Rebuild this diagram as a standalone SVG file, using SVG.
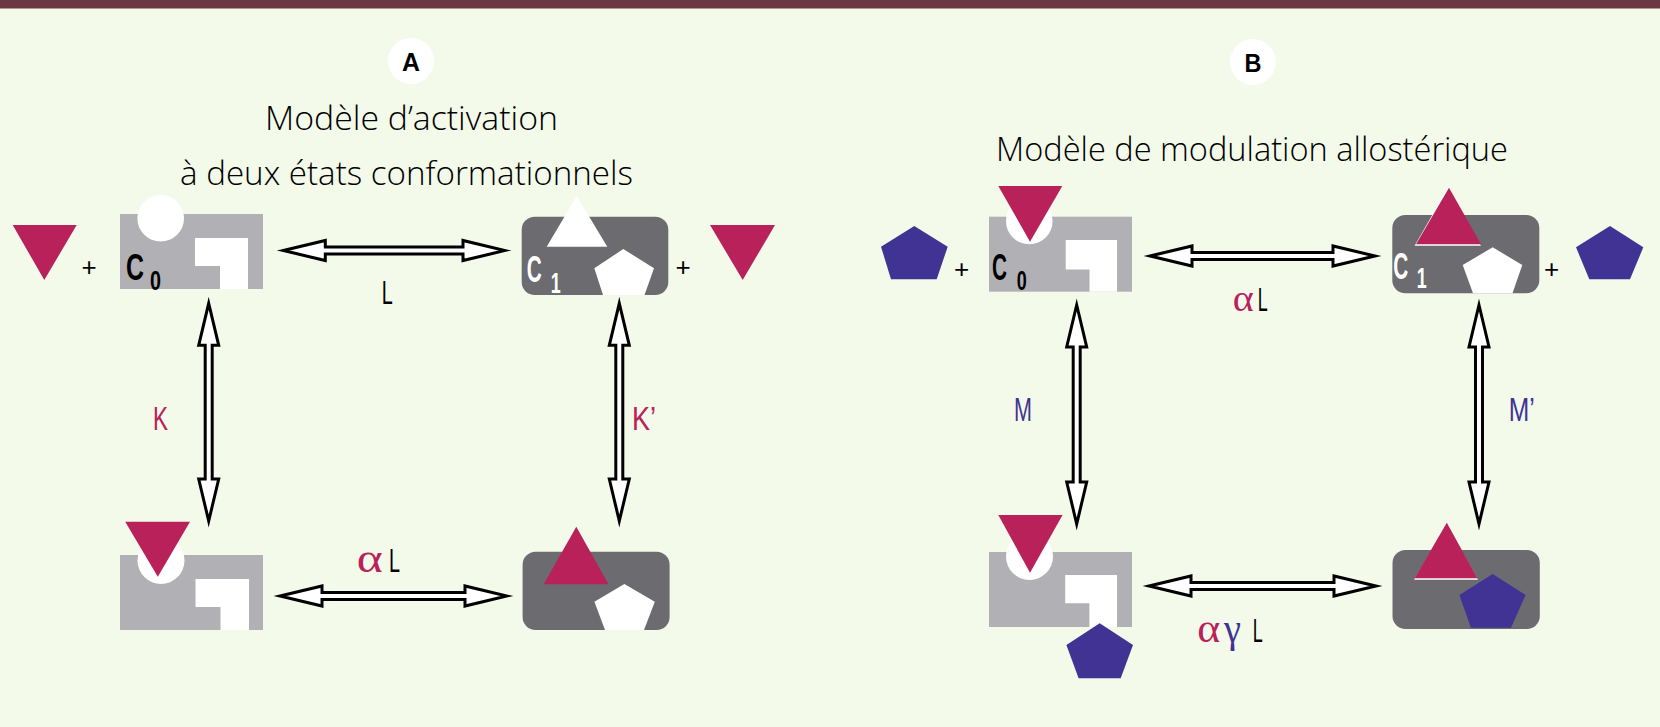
<svg xmlns="http://www.w3.org/2000/svg" width="1660" height="727" viewBox="0 0 1660 727">
<style>
.bg{fill:#f3faea}
.bar{fill:#6c3843}
.lg{fill:#b1b0b5}
.dg{fill:#6c6b70}
.wh{fill:#ffffff}
.mg{fill:#b8215a}
.nv{fill:#413394}
.arr{fill:#ffffff;stroke:#000000;stroke-width:3;stroke-linejoin:miter;stroke-miterlimit:10}
.t{font-family:"Liberation Sans",Arial,sans-serif;fill:#000000}
.ti{font-family:"Open Sans","Liberation Sans",Arial,sans-serif;font-weight:300;font-size:33px;fill:#000000}
.cb{font-family:"Liberation Sans",Arial,sans-serif;font-weight:bold;fill:#000000}
.cw{font-family:"Liberation Sans",Arial,sans-serif;font-weight:bold;fill:#ffffff}
.gr{font-family:"Liberation Serif","Times New Roman",serif}
.lab{font-size:33px}
.plus{font-family:"Liberation Sans",Arial,sans-serif;font-size:26px;fill:#000000}
</style>
<rect class="bg" x="0" y="0" width="1660" height="727"/>
<rect class="bar" x="0" y="0" width="1660" height="8.5"/>

<g id="titleA">
<circle class="wh" cx="411" cy="61" r="23"/>
<text class="cb" x="411" y="71" font-size="26" text-anchor="middle" textLength="18" lengthAdjust="spacingAndGlyphs">A</text>
<text class="ti" x="265" y="130" textLength="293" lengthAdjust="spacingAndGlyphs">Modèle d’activation</text>
<text class="ti" x="180" y="185" textLength="453" lengthAdjust="spacingAndGlyphs">à deux états conformationnels</text>
</g>
<g id="titleB">
<circle class="wh" cx="1253" cy="62" r="23"/>
<text class="cb" x="1253" y="72" font-size="26" text-anchor="middle" textLength="17" lengthAdjust="spacingAndGlyphs">B</text>
<text class="ti" x="996" y="161" textLength="512" lengthAdjust="spacingAndGlyphs">Modèle de modulation allostérique</text>
</g>

<g id="connectors">
<path class="arr" d="M283.3,250.5 L325.3,240.5 L325.3,247 L463,247 L463,240.5 L505,250.5 L463,260.5 L463,254 L325.3,254 L325.3,260.5 Z"/>
<path class="arr" d="M280,596 L322,586 L322,592.5 L465,592.5 L465,586 L507,596 L465,606 L465,599.5 L322,599.5 L322,606 Z"/>
<path class="arr" d="M208.7,303.3 L218.7,345.3 L212.2,345.3 L212.2,479 L218.7,479 L208.7,521 L198.7,479 L205.2,479 L205.2,345.3 L198.7,345.3 Z"/>
<path class="arr" d="M619.3,303.3 L629.3,345.3 L622.8,345.3 L622.8,479 L629.3,479 L619.3,521 L609.3,479 L615.8,479 L615.8,345.3 L609.3,345.3 Z"/>
<path class="arr" d="M1150,256 L1192,246 L1192,252.5 L1333,252.5 L1333,246 L1375,256 L1333,266 L1333,259.5 L1192,259.5 L1192,266 Z"/>
<path class="arr" d="M1149,586 L1191,576 L1191,582.5 L1334,582.5 L1334,576 L1376,586 L1334,596 L1334,589.5 L1191,589.5 L1191,596 Z"/>
<path class="arr" d="M1076.7,305 L1086.7,347 L1080.2,347 L1080.2,482 L1086.7,482 L1076.7,524 L1066.7,482 L1073.2,482 L1073.2,347 L1066.7,347 Z"/>
<path class="arr" d="M1479,305 L1489,347 L1482.5,347 L1482.5,482 L1489,482 L1479,524 L1469,482 L1475.5,482 L1475.5,347 L1469,347 Z"/>
</g>

<g id="labels">
<text class="t lab" x="381.7" y="304" textLength="11" lengthAdjust="spacingAndGlyphs">L</text>
<text class="gr" x="356.7" y="572" font-size="42" fill="#b8215a" textLength="26" lengthAdjust="spacingAndGlyphs">α</text>
<text class="t lab" x="389" y="572" textLength="11" lengthAdjust="spacingAndGlyphs">L</text>
<text class="t lab" x="153" y="430" style="fill:#b8215a" textLength="15" lengthAdjust="spacingAndGlyphs">K</text>
<text class="t lab" x="632" y="430" style="fill:#b8215a" textLength="24" lengthAdjust="spacingAndGlyphs">K’</text>
<text class="gr" x="1232.7" y="310.7" font-size="38" fill="#b8215a" textLength="21" lengthAdjust="spacingAndGlyphs">α</text>
<text class="t lab" x="1257.7" y="310.7" textLength="10" lengthAdjust="spacingAndGlyphs">L</text>
<text class="gr" x="1197.3" y="641.7" font-size="40" fill="#b8215a" textLength="23" lengthAdjust="spacingAndGlyphs">α</text>
<text class="gr" x="1224" y="641.7" font-size="40" fill="#413394" textLength="17" lengthAdjust="spacingAndGlyphs">γ</text>
<text class="t lab" x="1252.8" y="641.7" textLength="10" lengthAdjust="spacingAndGlyphs">L</text>
<text class="t lab" x="1014" y="421" style="fill:#413394" textLength="18" lengthAdjust="spacingAndGlyphs">M</text>
<text class="t lab" x="1508.7" y="421" style="fill:#413394" textLength="26" lengthAdjust="spacingAndGlyphs">M’</text>
</g>

<g id="A-ligand-left">
<polygon class="mg" points="12.7,225 76.7,225 44.3,280"/>
<text class="plus" x="89" y="276" text-anchor="middle">+</text>
</g>
<g id="A-C0">
<rect class="lg" x="120" y="214" width="143" height="75"/>
<circle class="wh" cx="160.7" cy="218.3" r="23.3"/>
<polygon class="wh" points="195,238 248,238 248,289 220,289 220,266 195,266"/>
<text class="cb" x="126" y="280" font-size="36" textLength="18" lengthAdjust="spacingAndGlyphs">C</text>
<text class="cb" x="150" y="290" font-size="28" textLength="11" lengthAdjust="spacingAndGlyphs">0</text>
</g>
<g id="A-C1">
<rect class="dg" x="521.7" y="216.7" width="146.6" height="78.3" rx="13"/>
<polygon class="wh" points="576.7,196 607.3,246.7 546.7,246.7"/>
<polygon class="wh" points="623.3,249 654,268.3 644.5,295 603,295 594.3,268.3"/>
<text class="cw" x="526.7" y="282" font-size="36" textLength="15" lengthAdjust="spacingAndGlyphs">C</text>
<text class="cw" x="550.7" y="293" font-size="29" textLength="10" lengthAdjust="spacingAndGlyphs">1</text>
</g>
<g id="A-ligand-right">
<text class="plus" x="683" y="276" text-anchor="middle">+</text>
<polygon class="mg" points="710,225 775,225 742.7,280"/>
</g>
<g id="A-bound-C0">
<rect class="lg" x="120" y="555" width="143" height="75"/>
<circle class="wh" cx="161" cy="560.5" r="23.5"/>
<polygon class="wh" points="195.5,579 249,579 249,630 220.5,630 220.5,607 195.5,607"/>
<polygon class="mg" points="125.2,521.7 190,521.7 157.8,576.7"/>
</g>
<g id="A-bound-C1">
<rect class="dg" x="522.6" y="551.7" width="147" height="78.3" rx="13"/>
<polygon class="mg" points="576.3,526.7 608.5,584.3 543.7,584.3"/>
<polygon class="wh" points="624.4,584 654.8,601.7 644,630 605,630 594.4,601.7"/>
</g>

<g id="B-modulator-left">
<polygon class="nv" points="914.3,226 947.7,246.7 936.7,279.3 891,279.3 881,246.7"/>
<text class="plus" x="961.7" y="277.5" text-anchor="middle">+</text>
</g>
<g id="B-C0">
<rect class="lg" x="989" y="216.7" width="143" height="75"/>
<circle class="wh" cx="1029.3" cy="221" r="23.3"/>
<polygon class="wh" points="1065.7,240 1117,240 1117,291.7 1089.5,291.7 1089.5,269.5 1065.7,269.5"/>
<polygon class="mg" points="998.3,186 1062.3,186 1030,241.7"/>
<text class="cb" x="992" y="280" font-size="36" textLength="15" lengthAdjust="spacingAndGlyphs">C</text>
<text class="cb" x="1016.7" y="290" font-size="28" textLength="10" lengthAdjust="spacingAndGlyphs">0</text>
</g>
<g id="B-C1">
<rect class="dg" x="1392.3" y="215" width="147" height="78.3" rx="13"/>
<polygon class="wh" points="1448,187.7 1481,245.8 1414.6,245.8"/>
<polygon class="mg" points="1449,187.7 1481,244.3 1416,244.3"/>
<polygon class="wh" points="1492.7,247.3 1522.3,265 1512.5,293.3 1473,293.3 1462.7,265"/>
<text class="cw" x="1393.3" y="278.5" font-size="36" textLength="15" lengthAdjust="spacingAndGlyphs">C</text>
<text class="cw" x="1416.7" y="288" font-size="29" textLength="10" lengthAdjust="spacingAndGlyphs">1</text>
</g>
<g id="B-modulator-right">
<text class="plus" x="1551.7" y="277.5" text-anchor="middle">+</text>
<polygon class="nv" points="1610,226 1643.3,247.3 1630,279.3 1589.3,279.3 1576,247.3"/>
</g>
<g id="B-bound-C0">
<rect class="lg" x="989" y="552" width="143" height="75"/>
<circle class="wh" cx="1029.5" cy="556.5" r="23.5"/>
<polygon class="wh" points="1065.2,575 1117,575 1117,627 1089.4,627 1089.4,603.3 1065.2,603.3"/>
<polygon class="mg" points="998.3,515 1062.6,515 1030,572.7"/>
<polygon class="nv" points="1099.7,623.3 1133,645 1120.7,678.3 1078.6,678.3 1066.4,645"/>
</g>
<g id="B-bound-C1">
<rect class="dg" x="1392.5" y="550" width="147.3" height="79" rx="13"/>
<polygon class="wh" points="1446.8,524 1478,579.8 1414,579.8"/>
<polygon class="mg" points="1446.8,522.7 1477.4,578.3 1414.6,578.3"/>
<polygon class="nv" points="1492.7,574 1525.6,595 1511,627.7 1470.9,627.7 1459.4,595"/>
</g>
</svg>
